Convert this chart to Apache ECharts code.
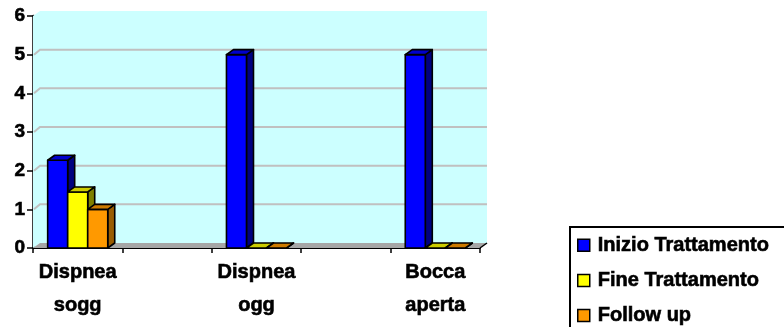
<!DOCTYPE html>
<html>
<head>
<meta charset="utf-8">
<script src="https://cdn.jsdelivr.net/npm/echarts@6/dist/echarts.min.js"></script>
<style>
  html, body { margin: 0; padding: 0; background: #ffffff; }
  #chart { width: 784px; height: 327px; }
</style>
</head>
<body>
<div id="chart"></div>
<script>
// Categories (blank slots keep the empty gaps between groups)
const categories = ['Dispnea\nsogg', '', 'Dispnea\nogg', '', 'Bocca\naperta'];
const inizioTrattamento = [2.27, null, 5, null, 5];
const fineTrattamento = [1.45, null, 0, null, 0];
const followUp = [1.0, null, 0, null, 0];
const yTicks = [0, 1, 2, 3, 4, 5, 6];

const FONT = 'Liberation Sans, Arial, sans-serif';
const DX = 7, DY = -5;          // depth offset of the pseudo-3D scene
const BAR_RATIO = 0.224;        // bar width as a share of the category band

function toPairs(arr) {
  const out = [];
  arr.forEach((v, i) => { if (v !== null) out.push([i, v]); });
  return out;
}

// Back wall, side wall, gridlines and floor
function renderScene(params, api) {
  const cs = params.coordSys;
  const x0 = cs.x, x1 = cs.x + cs.width;
  const yTop = cs.y, yBot = cs.y + cs.height;
  const children = [
    { type: 'rect', shape: { x: x0 + DX, y: yTop + DY, width: cs.width, height: cs.height },
      style: { fill: '#CCFFFF' } },
    { type: 'polygon', shape: { points: [[x0, yTop], [x0 + DX, yTop + DY], [x0 + DX, yBot + DY], [x0, yBot]] },
      style: { fill: '#CCFFFF' } }
  ];
  yTicks.forEach(t => {
    if (t === yTicks[0] || t === yTicks[yTicks.length - 1]) return;
    const y = api.coord([0, t])[1];
    children.push({ type: 'polyline',
      shape: { points: [[x0 + 1, y], [x0 + DX, y + DY], [x1 + DX, y + DY]] },
      style: { stroke: '#C0C0C0', lineWidth: 2, fill: null } });
  });
  children.push({ type: 'polygon',
    shape: { points: [[x0, yBot], [x1, yBot], [x1 + DX, yBot + DY], [x0 + DX, yBot + DY]] },
    style: { fill: '#A6A6A6' } });
  children.push({ type: 'line',
    shape: { x1: x1, y1: yBot, x2: x1 + DX, y2: yBot + DY },
    style: { stroke: '#000', lineWidth: 1.5 } });
  return { type: 'group', children: children };
}

function makeBarRenderer(slot, front, top, side) {
  return function (params, api) {
    const cat = api.value(0), v = api.value(1);
    const base = api.coord([cat, 0]);
    const tip = api.coord([cat, v]);
    const band = api.size([1, 0])[0];
    const w = band * BAR_RATIO;
    const xl = base[0] + (slot - 1) * w - w / 2, xr = xl + w;
    const yb = base[1], yt = tip[1];
    const edge = { stroke: '#000', lineWidth: 1.6, lineJoin: 'round' };
    return { type: 'group', children: [
      { type: 'polygon', shape: { points: [[xr, yt], [xr + DX, yt + DY], [xr + DX, yb + DY], [xr, yb]] },
        style: Object.assign({ fill: side }, edge) },
      { type: 'rect', shape: { x: xl, y: yt, width: w, height: yb - yt },
        style: Object.assign({ fill: front }, edge) },
      { type: 'polygon', shape: { points: [[xl, yt], [xl + DX, yt + DY], [xr + DX, yt + DY], [xr, yt]] },
        style: Object.assign({ fill: top }, edge) }
    ] };
  };
}

const seriesDefs = [
  { name: 'Inizio Trattamento', data: inizioTrattamento, front: '#0000FF', top: '#0000CC', side: '#000080' },
  { name: 'Fine Trattamento', data: fineTrattamento, front: '#FFFF00', top: '#CCCC00', side: '#808000' },
  { name: 'Follow up', data: followUp, front: '#FF9900', top: '#CC7A00', side: '#995C00' }
];

// Heavy bold lettering
const heavy = { color: '#000', fontFamily: FONT, fontWeight: 'bold',
                textBorderColor: '#000', textBorderWidth: 0.6 };

const chart = echarts.init(document.getElementById('chart'), null, { renderer: 'canvas' });

chart.setOption({
  animation: false,
  backgroundColor: '#ffffff',
  grid: { left: 33, top: 16, width: 447, height: 232 },
  xAxis: {
    type: 'category',
    data: categories,
    boundaryGap: true,
    axisLine: { show: true, lineStyle: { color: '#000', width: 2 } },
    axisTick: { show: true, interval: 0, length: 5, lineStyle: { color: '#000', width: 1.5 } },
    axisLabel: Object.assign({ interval: 0, margin: 8, fontSize: 20, lineHeight: 33 }, heavy),
    splitLine: { show: false }
  },
  yAxis: {
    type: 'value',
    min: 0, max: 6, interval: 1,
    axisLine: { show: true, lineStyle: { color: '#000', width: 2.5 } },
    axisTick: { show: true, length: 6, lineStyle: { color: '#000', width: 1.5 } },
    axisLabel: Object.assign({ margin: 8, fontSize: 19 }, heavy),
    splitLine: { show: false }
  },
  legend: {
    orient: 'vertical',
    left: 577, top: 235,
    itemWidth: 12, itemHeight: 12,
    itemGap: 14.5,
    padding: 0,
    icon: 'rect',
    selectedMode: false,
    textStyle: Object.assign({ fontSize: 20, lineHeight: 20, padding: [0, 0, 0, 3] }, heavy),
    data: seriesDefs.map(d => ({ name: d.name,
      itemStyle: { color: d.front, borderColor: '#000', borderWidth: 1.5 } }))
  },
  graphic: [
    { type: 'rect', silent: true,
      shape: { x: 570, y: 227, width: 260, height: 140 },
      style: { fill: 'none', stroke: '#000', lineWidth: 2 } }
  ],
  series: [
    { type: 'custom', name: 'scene', silent: true, z: 1, clip: false,
      renderItem: renderScene, data: [[0, 0]] }
  ].concat(seriesDefs.map((d, k) => ({
    type: 'custom',
    name: d.name,
    z: 3 + k,
    clip: false,
    silent: true,
    itemStyle: { color: d.front, borderColor: '#000', borderWidth: 1.5 },
    encode: { x: 0, y: 1 },
    renderItem: makeBarRenderer(k, d.front, d.top, d.side),
    data: toPairs(d.data)
  })))
});
</script>
</body>
</html>
